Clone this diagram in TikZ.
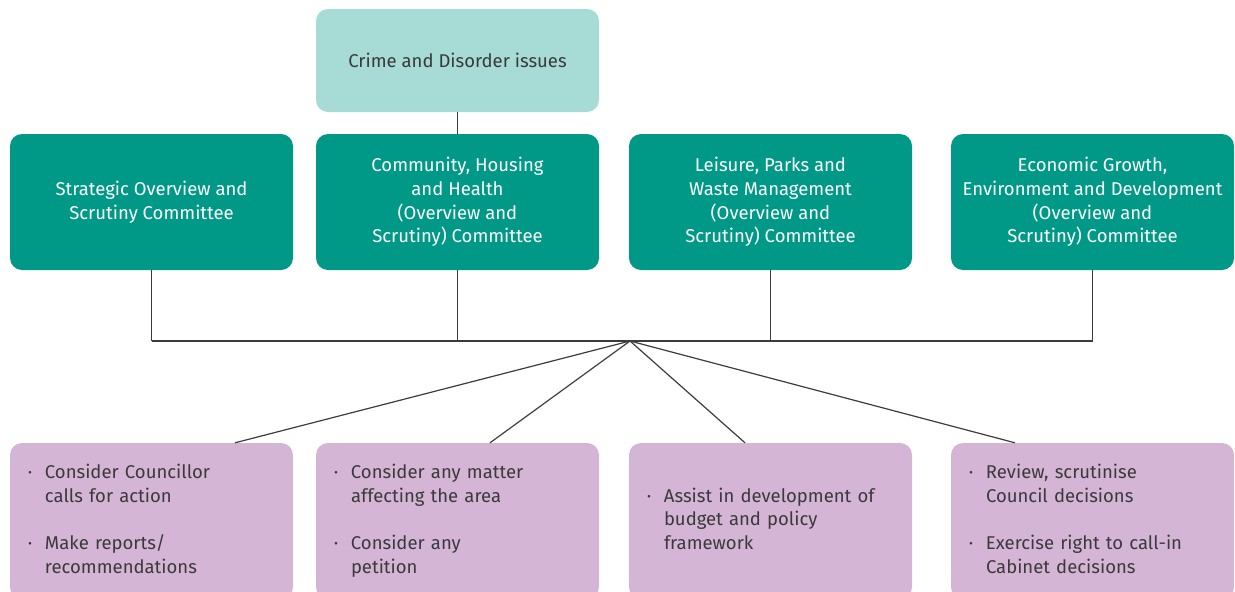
\documentclass[tikz,border=0pt]{standalone}
\usepackage{fontspec}
\setmainfont{Fira Sans}
\definecolor{teal}{RGB}{0,153,135}
\definecolor{lightteal}{RGB}{167,219,213}
\definecolor{lilac}{RGB}{212,181,214}
\definecolor{txt}{RGB}{58,58,58}
\definecolor{linec}{RGB}{60,60,60}
\newcommand{\blist}[1]{\begin{tabular}{@{}p{20pt}@{}l@{}}#1\end{tabular}}
\newcommand{\bul}{\makebox[10pt]{·}}
\begin{document}
\begin{tikzpicture}[x=1pt,y=-1pt,
  base/.style={rounded corners=12pt, minimum width=283pt, inner sep=0pt, font=\fontsize{18.5}{23.7}\selectfont},
  topbox/.style={base, fill=teal, text=white, minimum height=136pt, align=center},
  crimebox/.style={base, fill=lightteal, text=txt, minimum height=103pt, align=center},
  botbox/.style={base, fill=lilac, text=txt, minimum height=156pt, text width=253pt, inner xsep=15pt, align=left},
  conn/.style={draw=linec, line width=1.2pt}]
\useasboundingbox (0,0) rectangle (1235,592);
\begin{scope}
\clip (0,0) rectangle (1235,592);
\node[crimebox] (crime) at (457.5,60.5) {Crime and Disorder issues};
\node[topbox] (c1) at (151.5,202) {Strategic Overview and\\Scrutiny Committee};
\node[topbox] (c2) at (457.5,202) {Community, Housing\\and Health\\(Overview and\\Scrutiny) Committee};
\node[topbox] (c3) at (770.5,202) {Leisure, Parks and\\Waste Management\\(Overview and\\Scrutiny) Committee};
\node[topbox] (c4) at (1092.5,202) {Economic Growth,\\Environment and Development\\(Overview and\\Scrutiny) Committee};

\node[botbox] (b1) at (151.5,521) {\blist{\bul & Consider Councillor\\ & calls for action\\ & \\ \bul & Make reports/\\ & recommendations}};
\node[botbox] (b2) at (457.5,521) {\blist{\bul & Consider any matter\\ & affecting the area\\ & \\ \bul & Consider any\\ & petition}};
\node[botbox] (b3) at (770.5,521) {\blist{\bul & Assist in development of\\ & budget and policy\\ & framework}};
\node[botbox] (b4) at (1092.5,521) {\blist{\bul & Review, scrutinise\\ & Council decisions\\ & \\ \bul & Exercise right to call-in\\ & Cabinet decisions}};

\coordinate (j1) at (151.5,341);
\coordinate (j2) at (457.5,341);
\coordinate (j3) at (770.5,341);
\coordinate (j4) at (1092.5,341);
\coordinate (hub) at (630,341);

\draw[conn] (crime.south) -- (c2.north);
\draw[conn] (c1.south) -- (j1);
\draw[conn] (c2.south) -- (j2);
\draw[conn] (c3.south) -- (j3);
\draw[conn] (c4.south) -- (j4);
\draw[conn] (j1) -- (j4);
\draw[conn] (hub) -- ([xshift=83.5pt]b1.north);
\draw[conn] (hub) -- ([xshift=32.5pt]b2.north);
\draw[conn] (hub) -- ([xshift=-25.5pt]b3.north);
\draw[conn] (hub) -- ([xshift=-77.5pt]b4.north);
\end{scope}
\end{tikzpicture}
\end{document}
